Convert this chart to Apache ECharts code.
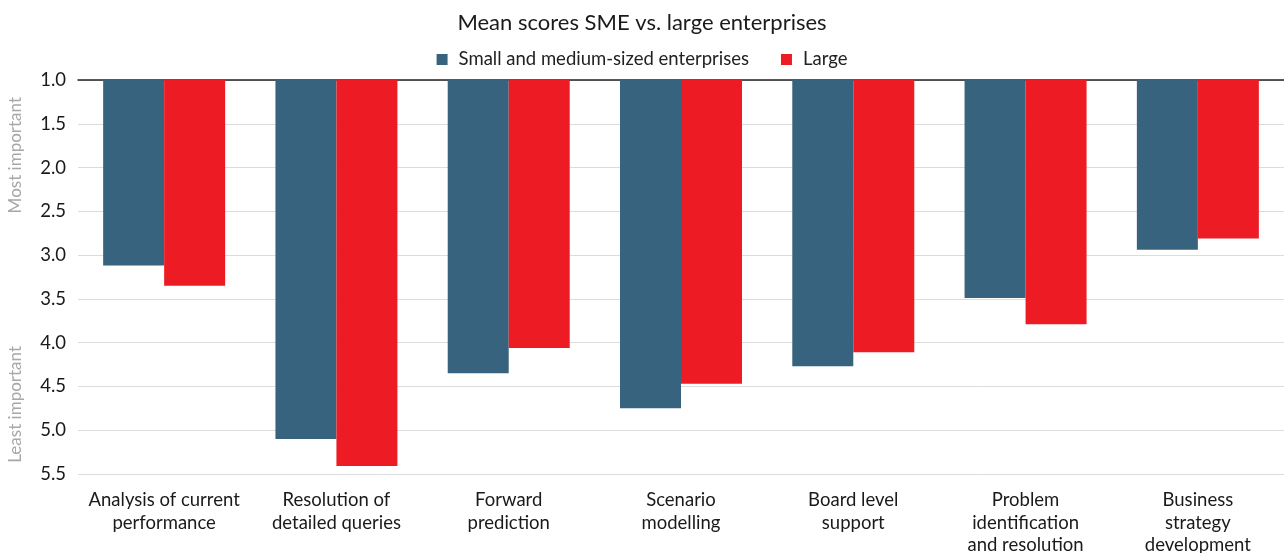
<!DOCTYPE html>
<html>
<head>
<meta charset="utf-8">
<script src="https://cdn.jsdelivr.net/npm/echarts@6/dist/echarts.min.js"></script>
<style>
html,body{margin:0;padding:0;background:#fff}
#chart{width:1284px;height:553px}
</style>
</head>
<body>
<div id="chart"></div>
<script>
// data
const categories = [
    'Analysis of current\nperformance',
    'Resolution of\ndetailed queries',
    'Forward\nprediction',
    'Scenario\nmodelling',
    'Board level\nsupport',
    'Problem\nidentification\nand resolution',
    'Business\nstrategy\ndevelopment'
]
const smeValues = [3.12, 5.10, 4.35, 4.75, 4.27, 3.49, 2.94]
const largeValues = [3.35, 5.41, 4.06, 4.47, 4.11, 3.79, 2.81]
const seriesNames = ['Small and medium-sized enterprises', 'Large']

const font = 'Lato, "Noto Sans", sans-serif'
const chart = echarts.init(document.getElementById('chart'))

const option = {
    animation: false,
    textStyle: {fontFamily: font},
    title: {
        text: 'Mean scores SME vs. large enterprises',
        left: 'center',
        top: 7,
        textStyle: {fontSize: 22, fontWeight: 'normal', color: '#1a1a1a', fontFamily: font}
    },
    legend: {
        top: 45,
        left: 'center',
        itemWidth: 11,
        itemHeight: 11,
        itemGap: 32,
        icon: 'rect',
        textStyle: {fontSize: 18.5, color: '#222', fontFamily: font, padding: [0, 0, 0, 6]},
        data: seriesNames
    },
    grid: {left: 78, right: 0, top: 80, bottom: 79, outerBoundsMode: 'none', containLabel: false},
    xAxis: [
        {
            type: 'category',
            data: categories,
            position: 'bottom',
            axisLine: {show: false},
            axisTick: {show: false},
            axisLabel: {fontSize: 18.5, color: '#1a1a1a', lineHeight: 22.5, margin: 15, interval: 0, fontFamily: font}
        },
        {
            type: 'category',
            data: categories,
            position: 'top',
            axisLine: {show: true, lineStyle: {color: '#222', width: 1.5}},
            axisTick: {show: false},
            axisLabel: {show: false}
        }
    ],
    yAxis: {
        type: 'value',
        inverse: true,
        min: 1,
        max: 5.5,
        interval: 0.5,
        axisLine: {show: false},
        axisTick: {show: false},
        axisLabel: {
            fontSize: 18.5, color: '#1a1a1a', margin: 12, fontFamily: font,
            formatter: v => v.toFixed(1)
        },
        splitLine: {lineStyle: {color: '#dcdcdc', width: 1}}
    },
    graphic: [
        {
            type: 'text', left: 7, top: 97, rotation: Math.PI / 2,
            style: {text: 'Most important', fontSize: 17, fill: '#a8a8a8', fontFamily: font}
        },
        {
            type: 'text', left: 7, top: 346, rotation: Math.PI / 2,
            style: {text: 'Least important', fontSize: 17, fill: '#a8a8a8', fontFamily: font}
        }
    ],
    series: [
        {
            name: seriesNames[0],
            type: 'bar',
            data: smeValues,
            barWidth: 61,
            barGap: '0%',
            itemStyle: {color: '#38637f'}
        },
        {
            name: seriesNames[1],
            type: 'bar',
            data: largeValues,
            barWidth: 61,
            barGap: '0%',
            itemStyle: {color: '#ed1c24'}
        }
    ]
}
chart.setOption(option)
</script>
</body>
</html>
